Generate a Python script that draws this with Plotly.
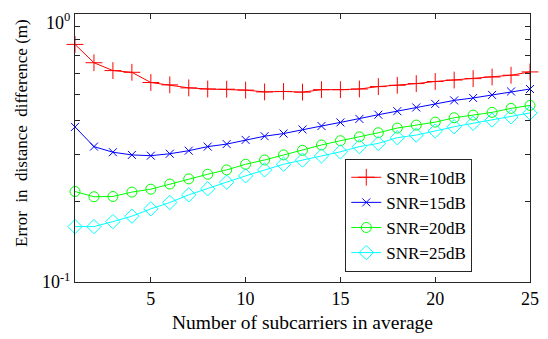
import plotly.graph_objects as go

subcarriers = list(range(1, 26))
snr10 = [0.770, 0.658, 0.615, 0.606, 0.555, 0.544, 0.530, 0.525, 0.524, 0.520, 0.512, 0.514, 0.511,
         0.522, 0.522, 0.525, 0.536, 0.542, 0.550, 0.560, 0.567, 0.574, 0.582, 0.591, 0.608]
snr15 = [0.379, 0.320, 0.305, 0.298, 0.296, 0.301, 0.309, 0.320, 0.327, 0.339, 0.350, 0.358, 0.371,
         0.382, 0.394, 0.406, 0.421, 0.434, 0.448, 0.462, 0.476, 0.486, 0.499, 0.514, 0.525]
snr20 = [0.2176, 0.208, 0.2085, 0.2165, 0.222, 0.232, 0.2425, 0.2524, 0.262, 0.275, 0.2853, 0.298, 0.310,
         0.3245, 0.3366, 0.348, 0.3605, 0.3753, 0.385, 0.395, 0.410, 0.4195, 0.4295, 0.4445, 0.456]
snr25 = [0.161, 0.161, 0.168, 0.176, 0.1875, 0.198, 0.2114, 0.2227, 0.2358, 0.2489, 0.262, 0.275, 0.285,
         0.2953, 0.306, 0.320, 0.329, 0.3454, 0.3534, 0.366, 0.3796, 0.391, 0.402, 0.4135, 0.4275]

series_names = ["SNR=10dB", "SNR=15dB", "SNR=20dB", "SNR=25dB"]
series_values = [snr10, snr15, snr20, snr25]
colors = ["#ff0000", "#0000ff", "#00ff00", "#00ffff"]
symbols = ["cross-thin-open", "x-thin-open", "circle-open", "diamond-open"]
sizes = [12, 8, 10, 11]

x_ticks = [5, 10, 15, 20, 25]
y_ticks = [0.1, 1]
y_ticktext = ["10<sup>-1</sup>", ""]
y_top_label = "10<sup>0</sup>"
y_minor = [0.2, 0.3, 0.4, 0.5, 0.6, 0.7, 0.8, 0.9]

FONT = "Liberation Serif"
AX = "#262626"

fig = go.Figure()
for name, vals, c, s, sz in zip(series_names, series_values, colors, symbols, sizes):
    fig.add_trace(go.Scatter(
        x=subcarriers, y=vals, name=name, mode="lines+markers",
        line=dict(color=c, width=1),
        marker=dict(symbol=s, size=sz, color=c, line=dict(color=c, width=1)),
        cliponaxis=False,
    ))

# the page body has an 8px margin, so the figure is sized to fit the 548x339 window
fig.update_layout(
    width=540, height=331,
    margin=dict(l=67, r=18, t=5.5, b=56.5, autoexpand=False),
    paper_bgcolor="white", plot_bgcolor="white",
    font=dict(family=FONT, size=18, color="#262626"),
    showlegend=True,
    legend=dict(
        x=0.594, y=0.46, xanchor="left", yanchor="top",
        bgcolor="white", bordercolor=AX, borderwidth=1,
        font=dict(family=FONT, size=17, color="#000000"),
        tracegroupgap=0,
    ),
    xaxis=dict(
        range=[1, 25], tickvals=x_ticks, ticks="inside", ticklen=5,
        tickcolor=AX, showline=True, linecolor=AX, linewidth=1, mirror="ticks",
        showgrid=False, zeroline=False, automargin=False,
        tickfont=dict(family=FONT, size=18, color="#000000"),
    ),
    yaxis=dict(
        type="log", range=[-1, 0], tickvals=y_ticks, ticktext=y_ticktext,
        ticks="inside", ticklen=5, tickcolor=AX, showline=True, linecolor=AX, linewidth=1,
        mirror="ticks", showgrid=False, zeroline=False, automargin=False,
        tickfont=dict(family=FONT, size=18, color="#000000"),
        minor=dict(tickvals=y_minor, ticks="inside", ticklen=5, tickcolor=AX, showgrid=False),
    ),
    annotations=[
        dict(
            text=y_top_label,
            xref="paper", yref="paper", x=0, y=1, xanchor="right", yanchor="top",
            xshift=-4, yshift=5, showarrow=False, borderpad=0,
            font=dict(family=FONT, size=18, color="#000000"),
        ),
        dict(
            text="Error\u00a0\u00a0in\u00a0\u00a0distance\u00a0\u00a0difference\u00a0(m)",
            xref="paper", yref="paper", x=0, y=0.556, xanchor="center", yanchor="middle",
            xshift=-53, textangle=-90, showarrow=False,
            font=dict(family=FONT, size=17, color="#000000"),
        ),
        dict(
            text="Number of subcarriers in average",
            xref="paper", yref="paper", x=0.5, y=0, xanchor="center", yanchor="middle",
            yshift=-40, showarrow=False,
            font=dict(family=FONT, size=19.5, color="#000000"),
        ),
    ],
)

fig.write_html("out.html")
